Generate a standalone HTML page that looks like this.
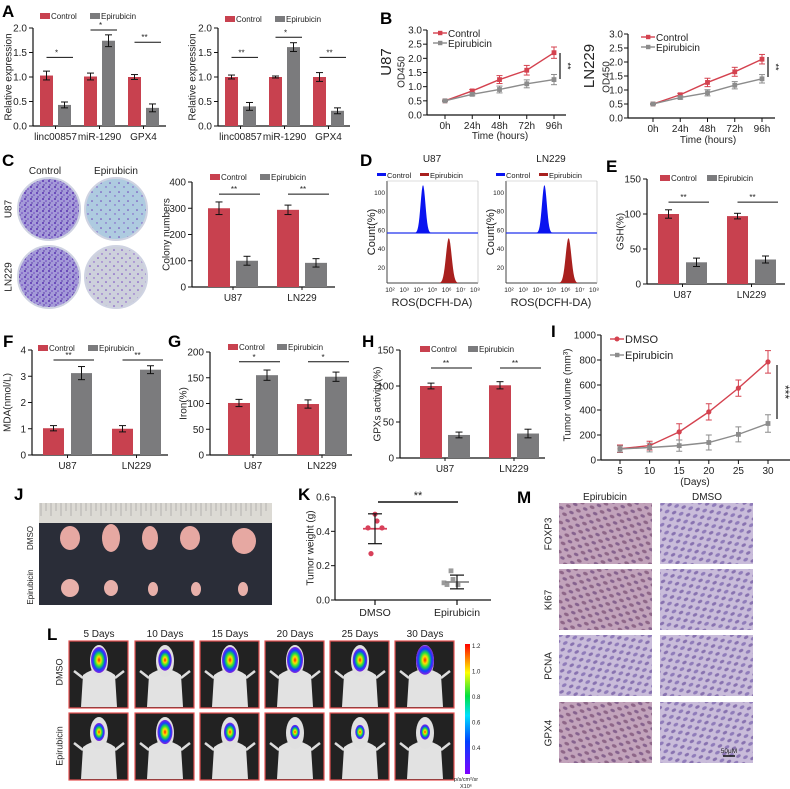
<!DOCTYPE html>
<html><head><meta charset="utf-8"><title>Figure</title>
<style>
html,body{margin:0;padding:0;background:#fff;}
svg{display:block;font-family:"Liberation Sans",Arial,sans-serif;}
</style></head>
<body>
<svg id="fig" width="790" height="789" viewBox="0 0 790 789" xmlns="http://www.w3.org/2000/svg">
<defs>
<pattern id="dotsDense" width="6" height="6" patternUnits="userSpaceOnUse">
<rect width="6" height="6" fill="#a49ad8"/>
<circle cx="1" cy="1" r="1.0" fill="#5a34b0"/><circle cx="4" cy="3" r="0.8" fill="#6a3fc0"/><circle cx="2" cy="5" r="0.7" fill="#4e2ea0"/>
</pattern>
<pattern id="dotsSparse" width="9" height="9" patternUnits="userSpaceOnUse">
<rect width="9" height="9" fill="#aecbe0"/>
<circle cx="2" cy="3" r="0.8" fill="#6a3fb8"/><circle cx="7" cy="7" r="0.7" fill="#7a4cc4"/>
</pattern>
<pattern id="dotsSparse2" width="8" height="8" patternUnits="userSpaceOnUse">
<rect width="8" height="8" fill="#cdd0dc"/>
<circle cx="2" cy="2" r="0.8" fill="#7444c0"/><circle cx="6" cy="6" r="0.7" fill="#8250c8"/>
</pattern>
<pattern id="ihcBrown" width="11" height="9" patternUnits="userSpaceOnUse" patternTransform="rotate(25)">
<rect width="11" height="9" fill="#c2a3bb"/>
<ellipse cx="3" cy="2.5" rx="2.6" ry="1.6" fill="#8e6688"/><ellipse cx="8.5" cy="7" rx="2.4" ry="1.5" fill="#86628e"/>
</pattern>
<pattern id="ihcLav" width="11" height="9" patternUnits="userSpaceOnUse" patternTransform="rotate(-30)">
<rect width="11" height="9" fill="#c9bcda"/>
<ellipse cx="3" cy="2.5" rx="2.6" ry="1.6" fill="#907cba"/><ellipse cx="8.5" cy="7" rx="2.4" ry="1.5" fill="#8872b0"/>
</pattern>
<radialGradient id="heat">
<stop offset="0" stop-color="#ff2000"/><stop offset="0.25" stop-color="#ffe000"/><stop offset="0.5" stop-color="#20e040"/><stop offset="0.75" stop-color="#1040ff"/><stop offset="1" stop-color="#7a10e0" stop-opacity="0.9"/>
</radialGradient>
<linearGradient id="cbar" x1="0" y1="1" x2="0" y2="0">
<stop offset="0" stop-color="#8000ff"/><stop offset="0.25" stop-color="#0040ff"/><stop offset="0.45" stop-color="#00e0ff"/><stop offset="0.6" stop-color="#00e040"/><stop offset="0.78" stop-color="#ffff00"/><stop offset="1" stop-color="#ff0000"/>
</linearGradient>
</defs>
</svg>
<script>
// ---------- DATA ----------
const aCategories = ["linc00857","miR-1290","GPX4"];
const a1Control = [1.03,1.01,1.00];
const a1ControlErr = [0.09,0.07,0.05];
const a1Epi = [0.43,1.74,0.37];
const a1EpiErr = [0.06,0.12,0.08];
const a1Sig = ["*","*","**"];
const a1SigLevel = [1.40,1.96,1.71];
const a2Control = [1.00,1.00,1.00];
const a2ControlErr = [0.04,0.02,0.09];
const a2Epi = [0.40,1.61,0.31];
const a2EpiErr = [0.08,0.09,0.06];
const a2Sig = ["**","*","**"];
const a2SigLevel = [1.40,1.81,1.40];
const aTicks = [0,0.5,1.0,1.5,2.0];

const bTimes = ["0h","24h","48h","72h","96h"];
const b1Control = [0.50,0.85,1.25,1.58,2.20];
const b1ControlErr = [0.02,0.05,0.14,0.17,0.20];
const b1Epi = [0.50,0.73,0.90,1.10,1.25];
const b1EpiErr = [0.02,0.05,0.12,0.14,0.18];
const b2Control = [0.50,0.83,1.27,1.65,2.10];
const b2ControlErr = [0.02,0.05,0.15,0.16,0.17];
const b2Epi = [0.50,0.73,0.90,1.17,1.40];
const b2EpiErr = [0.02,0.05,0.11,0.13,0.15];
const bTicks = [0,0.5,1.0,1.5,2.0,2.5,3.0];

const cellCategories = ["U87","LN229"];
const cControl = [300,294]; const cControlErr = [24,18];
const cEpi = [100,92]; const cEpiErr = [17,16];
const cSig = ["**","**"]; const cSigLevel = [354,354];
const cTicks = [0,100,200,300,400];

const dPeakBlue = [4.33,4.5]; const dPeakRed = [6.15,6.2];
const dTicks = ["10²","10³","10⁴","10⁵","10⁶","10⁷","10⁸"];
const dYTicks = [20,40,60,80,100];

const eControl = [100,97]; const eControlErr = [6,4];
const eEpi = [31,35]; const eEpiErr = [6,5];
const eSig = ["**","**"]; const eSigLevel = [117,117];
const eTicks = [0,50,100,150];

const fControl = [1.02,1.00]; const fControlErr = [0.10,0.12];
const fEpi = [3.12,3.25]; const fEpiErr = [0.25,0.15];
const fSig = ["**","**"]; const fSigLevel = [3.62,3.62];
const fTicks = [0,1,2,3,4];

const gControl = [101,99]; const gControlErr = [7,8];
const gEpi = [155,152]; const gEpiErr = [10,9];
const gSig = ["*","*"]; const gSigLevel = [181,181];
const gTicks = [0,50,100,150,200];

const hControl = [100,101]; const hControlErr = [4,5];
const hEpi = [32,34]; const hEpiErr = [4,6];
const hSig = ["**","**"]; const hSigLevel = [125,125];
const hTicks = [0,50,100,150];

const iDays = [5,10,15,20,25,30];
const iDmso = [90,115,225,385,575,785];
const iDmsoErr = [30,35,65,65,65,90];
const iEpi = [88,100,115,140,205,292];
const iEpiErr = [25,35,45,60,60,70];
const iTicks = [0,200,400,600,800,1000];

const kDmso = [0.50,0.46,0.42,0.42,0.27];
const kEpi = [0.17,0.12,0.10,0.09,0.09];
const kDmsoMean = 0.415; const kDmsoSd = 0.087;
const kEpiMean = 0.105; const kEpiSd = 0.04;
const kTicks = [0,0.2,0.4,0.6];

const lDays = ["5 Days","10 Days","15 Days","20 Days","25 Days","30 Days"];
const lDmsoSignal = [1.0,0.75,1.0,1.0,0.85,1.2];
const lEpiSignal = [0.55,0.9,0.6,0.35,0.35,0.4];
const lScale = ["1.2","1.0","0.8","0.6","0.4"];

const mMarkers = ["FOXP3","KI67","PCNA","GPX4"];

// ---------- HELPERS ----------
const svg = document.getElementById('fig');
const NS = "http://www.w3.org/2000/svg";
const RED = "#c8414f", GRAY = "#7b7b7d", LRED = "#d4424f", LGRAY = "#8c8c8c";
function el(tag, attrs, name, parent) {
  const e = document.createElementNS(NS, tag);
  for (const k in attrs) e.setAttribute(k, attrs[k]);
  
  
  (parent || svg).appendChild(e);
  return e;
}
function txt(x, y, s, name, opt, parent) {
  const o = Object.assign({x:x, y:y, 'font-size':10, fill:'#222', 'text-anchor':'middle'}, opt || {});
  const t = el('text', o, name, parent);
  t.textContent = s;
  return t;
}
function rtxt(x, y, s, name, size, parent) {
  return txt(x, y, s, name, {'font-size':size, transform:'rotate(-90 '+x+' '+y+')', 'dominant-baseline':'middle'}, parent);
}
function line(x1,y1,x2,y2,name,stroke,w,parent){
  return el('line',{x1:x1,y1:y1,x2:x2,y2:y2,stroke:stroke||'#111','stroke-width':w||1},name,parent);
}
function letter(x,y,s){ txt(x,y,s,'panel-label-'+s.toLowerCase(),{'font-size':17,'font-weight':'bold','text-anchor':'start',fill:'#000'}); }

function barChart(p) {
  const g = el('g', {}, p.name);
  const ys = v => p.y0 - (v / p.vMax) * (p.y0 - p.yTop);
  line(p.ax, p.yTop, p.ax, p.y0, 'y-axis', '#111', 1.2, g);
  line(p.ax, p.y0, p.axEnd, p.y0, 'x-axis', '#111', 1.2, g);
  p.ticks.forEach(t => {
    line(p.ax - 4, ys(t), p.ax, ys(t), 'y-tick', '#111', 1, g);
    txt(p.ax - 6, ys(t) + 3.5, p.fmt(t), 'y-tick-label', {'font-size':p.tfs||10, 'text-anchor':'end'}, g);
  });
  rtxt(p.titleX, (p.yTop + p.y0) / 2, p.title, 'y-axis-title', p.titleFs || 10, g);
  p.cats.forEach((c, i) => {
    const gx = p.start + i * p.step;
    const ex = gx + p.bw + p.gap;
    el('rect', {x:gx, y:ys(p.ctrl[i]), width:p.bw, height:p.y0 - ys(p.ctrl[i]), fill:RED}, 'bar-control-' + c, g);
    el('rect', {x:ex, y:ys(p.epi[i]), width:p.bw, height:p.y0 - ys(p.epi[i]), fill:GRAY}, 'bar-epirubicin-' + c, g);
    [[gx, p.ctrl[i], p.ctrlErr[i]], [ex, p.epi[i], p.epiErr[i]]].forEach(a => {
      const cx = a[0] + p.bw / 2;
      line(cx, ys(a[1] + a[2]), cx, ys(a[1] - a[2]), 'error-bar', '#111', 1, g);
      line(cx - 3.5, ys(a[1] + a[2]), cx + 3.5, ys(a[1] + a[2]), 'error-cap', '#111', 1, g);
      line(cx - 3.5, ys(a[1] - a[2]), cx + 3.5, ys(a[1] - a[2]), 'error-cap', '#111', 1, g);
    });
    const sy = ys(p.sigLevel[i]);
    line(gx + p.bw * 0.5, sy, ex + p.bw + 2, sy, 'significance-line', '#111', 1, g);
    txt((gx + ex + p.bw) / 2 + 1, sy - 2, p.sig[i], 'significance-mark', {'font-size':8}, g);
    txt((gx + ex + p.bw) / 2, p.labelY, c, 'x-tick-label', {'font-size':p.lfs||10}, g);
    line((gx + ex + p.bw) / 2, p.y0, (gx + ex + p.bw) / 2, p.y0 + 3, 'x-tick', '#111', 1, g);
  });
  const lg = el('g', {}, 'legend', g);
  el('rect', {x:p.legX, y:p.legY - 6, width:10, height:6, fill:RED}, 'legend-swatch-control', lg);
  txt(p.legX + 11, p.legY, 'Control', 'legend-label-control', {'font-size':p.lgfs||8, 'text-anchor':'start'}, lg);
  el('rect', {x:p.legX2, y:p.legY - 6, width:10, height:6, fill:GRAY}, 'legend-swatch-epirubicin', lg);
  txt(p.legX2 + 11, p.legY, 'Epirubicin', 'legend-label-epirubicin', {'font-size':p.lgfs||8, 'text-anchor':'start'}, lg);
}

function lineChart(p) {
  const g = el('g', {}, p.name);
  const ys = v => p.y0 - (v / p.vMax) * (p.y0 - p.yTop);
  const xs = i => p.x0 + i * p.xStep;
  line(p.ax, p.yTop, p.ax, p.y0, 'y-axis', '#111', 1.2, g);
  line(p.ax, p.y0, p.axEnd, p.y0, 'x-axis', '#111', 1.2, g);
  p.ticks.forEach(t => {
    line(p.ax - 4, ys(t), p.ax, ys(t), 'y-tick', '#111', 1, g);
    txt(p.ax - 5, ys(t) + 3.5, p.fmt(t), 'y-tick-label', {'font-size':10, 'text-anchor':'end'}, g);
  });
  p.cats.forEach((c, i) => {
    line(xs(i), p.y0, xs(i), p.y0 + 4, 'x-tick', '#111', 1, g);
    txt(xs(i), p.y0 + 14, c, 'x-tick-label', {'font-size':10}, g);
  });
  txt(p.xTitleX, p.xTitleY, p.xTitle, 'x-axis-title', {'font-size':10}, g);
  rtxt(p.titleX, p.titleY, p.title, 'y-axis-title', 10, g);
  p.series.forEach(s => {
    const pts = s.vals.map((v, i) => xs(i) + ',' + ys(v)).join(' ');
    el('polyline', {points:pts, fill:'none', stroke:s.color, 'stroke-width':1.4}, 'line-' + s.key, g);
    s.vals.forEach((v, i) => {
      const x = xs(i), e = s.err[i];
      line(x, ys(v + e), x, ys(v - e), 'error-bar', s.color, 1, g);
      line(x - 3, ys(v + e), x + 3, ys(v + e), 'error-cap', s.color, 1, g);
      line(x - 3, ys(v - e), x + 3, ys(v - e), 'error-cap', s.color, 1, g);
      if (s.shape === 'c') el('circle', {cx:x, cy:ys(v), r:2.6, fill:s.color}, 'point-' + s.key, g);
      else el('rect', {x:x - 2.4, y:ys(v) - 2.4, width:4.8, height:4.8, fill:s.color}, 'point-' + s.key, g);
    });
  });
  p.series.forEach((s, k) => {
    const ly = p.legY + k * p.legGap;
    line(p.legX, ly, p.legX + 14, ly, 'legend-line-' + s.key, s.color, 1.4, g);
    if (s.shape === 'c') el('circle', {cx:p.legX + 7, cy:ly, r:2.5, fill:s.color}, 'legend-marker', g);
    else el('rect', {x:p.legX + 5, y:ly - 2.2, width:4.4, height:4.4, fill:s.color}, 'legend-marker', g);
    txt(p.legX + 15, ly + 4, s.label, 'legend-label-' + s.key, {'font-size':p.legFs || 10, 'text-anchor':'start'}, g);
  });
  line(p.sigX, p.sigY1, p.sigX, p.sigY2, 'significance-line', '#111', 1.2, g);
  txt(p.sigX + 7, (p.sigY1 + p.sigY2) / 2, p.sigText, 'significance-mark', {'font-size':p.sigFs || 9, transform:'rotate(90 ' + (p.sigX + 7) + ' ' + ((p.sigY1 + p.sigY2) / 2) + ')', 'dominant-baseline':'middle'}, g);
}

// ---------- PANEL A ----------
letter(2, 17, 'A');
const f1 = v => v.toFixed(1);
barChart({name:'chart-a-left', ax:33, axEnd:166, y0:126, yTop:28, vMax:2, ticks:aTicks, fmt:f1, title:'Relative expression', titleX:9,
  cats:aCategories, ctrl:a1Control, ctrlErr:a1ControlErr, epi:a1Epi, epiErr:a1EpiErr, sig:a1Sig, sigLevel:a1SigLevel,
  start:40, step:44, bw:13, gap:5, labelY:140, legX:40, legX2:90, legY:19, lfs:10});
barChart({name:'chart-a-right', ax:218, axEnd:350, y0:126, yTop:28, vMax:2, ticks:aTicks, fmt:f1, title:'Relative expression', titleX:193,
  cats:aCategories, ctrl:a2Control, ctrlErr:a2ControlErr, epi:a2Epi, epiErr:a2EpiErr, sig:a2Sig, sigLevel:a2SigLevel,
  start:225, step:44, bw:13, gap:5, labelY:140, legX:225, legX2:275, legY:22, lfs:10});

// ---------- PANEL B ----------
letter(380, 24, 'B');
rtxt(387, 62, 'U87', 'cell-line-label-u87', 15);
rtxt(590, 66, 'LN229', 'cell-line-label-ln229', 15);
lineChart({name:'chart-b-u87', ax:427, axEnd:566, y0:115, yTop:30, vMax:3, ticks:bTicks, fmt:f1, cats:bTimes, x0:445, xStep:27.25,
  xTitle:'Time (hours)', xTitleX:500, xTitleY:139, title:'OD450', titleX:402, titleY:72,
  series:[{key:'control', label:'Control', vals:b1Control, err:b1ControlErr, color:LRED, shape:'s'},
          {key:'epirubicin', label:'Epirubicin', vals:b1Epi, err:b1EpiErr, color:LGRAY, shape:'s'}],
  legX:433, legY:33, legGap:10, sigX:560, sigY1:53, sigY2:79, sigText:'**'});
lineChart({name:'chart-b-ln229', ax:628, axEnd:775, y0:118, yTop:34, vMax:3, ticks:bTicks, fmt:f1, cats:bTimes, x0:653, xStep:27.25,
  xTitle:'Time (hours)', xTitleX:708, xTitleY:143, title:'OD450', titleX:607, titleY:77,
  series:[{key:'control', label:'Control', vals:b2Control, err:b2ControlErr, color:LRED, shape:'s'},
          {key:'epirubicin', label:'Epirubicin', vals:b2Epi, err:b2EpiErr, color:LGRAY, shape:'s'}],
  legX:641, legY:37, legGap:10, sigX:768, sigY1:57, sigY2:77, sigText:'**'});

// ---------- PANEL C ----------
letter(2, 166, 'C');
txt(45, 174, 'Control', 'column-label-control', {'font-size':10});
txt(116, 174, 'Epirubicin', 'column-label-epirubicin', {'font-size':10});
rtxt(9, 209, 'U87', 'row-label-u87', 10);
rtxt(9, 277, 'LN229', 'row-label-ln229', 10);
[[49,209,'url(#dotsDense)','dish-u87-control'],[116,209,'url(#dotsSparse)','dish-u87-epirubicin'],
 [49,277,'url(#dotsDense)','dish-ln229-control'],[116,277,'url(#dotsSparse2)','dish-ln229-epirubicin']].forEach(d => {
  el('circle', {cx:d[0], cy:d[1], r:31, fill:d[2], stroke:'#cfd3e2', 'stroke-width':2}, d[3]);
});
barChart({name:'chart-c-colony', ax:192, axEnd:335, y0:287, yTop:182, vMax:400, ticks:cTicks, fmt:v => String(v), title:'Colony numbers', titleX:167,
  cats:cellCategories, ctrl:cControl, ctrlErr:cControlErr, epi:cEpi, epiErr:cEpiErr, sig:cSig, sigLevel:cSigLevel,
  start:208, step:69, bw:22, gap:6, labelY:301, legX:210, legX2:260, legY:180});

// ---------- PANEL D ----------
letter(360, 166, 'D');
function histo(bx, title, idx) {
  const g = el('g', {}, 'histogram-' + title.toLowerCase());
  const w = 91, top = 181, bot = 283;
  const xl = v => bx + 3 + (v - 2) / 6 * (w - 6);
  txt(bx + 45, 162, title, 'histogram-title', {'font-size':10}, g);
  line(bx, top, bx, bot, 'y-axis', '#444', 1, g);
  line(bx, bot, bx + w, bot, 'x-axis', '#444', 1, g);
  line(bx, top, bx + w, top, 'frame-top', '#bbb', 0.6, g);
  line(bx + w, top, bx + w, bot, 'frame-right', '#bbb', 0.6, g);
  dYTicks.forEach(t => {
    const y = bot - 16 - (t - 20) * 0.94;
    txt(bx - 2, y + 3, String(t), 'y-tick-label', {'font-size':6.5, 'text-anchor':'end'}, g);
  });
  dTicks.forEach((t, i) => txt(xl(2 + i), 292, t, 'x-tick-label', {'font-size':6.5}, g));
  txt(bx + 45, 306, 'ROS(DCFH-DA)', 'x-axis-title', {'font-size':11}, g);
  rtxt(bx - 15, 232, 'Count(%)', 'y-axis-title', 11, g);
  line(bx, 233, bx + w, 233, 'control-baseline', '#2233ee', 1.2, g);
  function peak(c, base, h, sig, color, nm) {
    let d = 'M' + xl(c - 4 * sig) + ',' + base;
    for (let k = -4; k <= 4; k += 0.25) d += ' L' + xl(c + k * sig) + ',' + (base - h * Math.exp(-k * k / 2));
    d += ' L' + xl(c + 4 * sig) + ',' + base + ' Z';
    el('path', {d:d, fill:color}, nm, g);
  }
  peak(dPeakBlue[idx], 233, 48, 0.17, '#0a14f0', 'peak-control');
  peak(dPeakRed[idx], 283, 45, 0.2, '#a8201e', 'peak-epirubicin');
  el('rect', {x:bx - 10, y:173, width:9, height:3, fill:'#0a14f0'}, 'legend-swatch-control', g);
  txt(bx, 178, 'Control', 'legend-label-control', {'font-size':7.5, 'text-anchor':'start'}, g);
  el('rect', {x:bx + 33, y:173, width:9, height:3, fill:'#a8201e'}, 'legend-swatch-epirubicin', g);
  txt(bx + 43, 178, 'Epirubicin', 'legend-label-epirubicin', {'font-size':7.5, 'text-anchor':'start'}, g);
}
histo(387, 'U87', 0);
histo(506, 'LN229', 1);

// ---------- PANEL E ----------
letter(606, 172, 'E');
barChart({name:'chart-e-gsh', ax:647, axEnd:785, y0:284, yTop:179, vMax:150, ticks:eTicks, fmt:v => String(v), title:'GSH(%)', titleX:621,
  cats:cellCategories, ctrl:eControl, ctrlErr:eControlErr, epi:eEpi, epiErr:eEpiErr, sig:eSig, sigLevel:eSigLevel,
  start:658, step:69, bw:21, gap:7, labelY:298, legX:660, legX2:707, legY:181});

// ---------- PANEL F/G/H ----------
letter(3, 347, 'F');
barChart({name:'chart-f-mda', ax:32, axEnd:168, y0:455, yTop:350, vMax:4, ticks:fTicks, fmt:v => String(v), title:'MDA(nmol/L)', titleX:8,
  cats:cellCategories, ctrl:fControl, ctrlErr:fControlErr, epi:fEpi, epiErr:fEpiErr, sig:fSig, sigLevel:fSigLevel,
  start:43, step:69, bw:21, gap:7, labelY:469, legX:38, legX2:88, legY:351});
letter(168, 347, 'G');
barChart({name:'chart-g-iron', ax:210, axEnd:352, y0:455, yTop:352, vMax:200, ticks:gTicks, fmt:v => String(v), title:'Iron(%)', titleX:184,
  cats:cellCategories, ctrl:gControl, ctrlErr:gControlErr, epi:gEpi, epiErr:gEpiErr, sig:gSig, sigLevel:gSigLevel,
  start:228, step:69, bw:22, gap:6, labelY:469, legX:228, legX2:277, legY:350});
letter(362, 347, 'H');
barChart({name:'chart-h-gpx', ax:400, axEnd:545, y0:458, yTop:350, vMax:150, ticks:hTicks, fmt:v => String(v), title:'GPXs activity(%)', titleX:378,
  cats:cellCategories, ctrl:hControl, ctrlErr:hControlErr, epi:hEpi, epiErr:hEpiErr, sig:hSig, sigLevel:hSigLevel,
  start:420, step:69, bw:22, gap:6, labelY:472, legX:420, legX2:468, legY:352});

// ---------- PANEL I ----------
letter(551, 337, 'I');
lineChart({name:'chart-i-tumor-volume', ax:601, axEnd:790, y0:460, yTop:335, vMax:1000, ticks:iTicks, fmt:v => String(v), cats:iDays.map(String), x0:620, xStep:29.6,
  xTitle:'(Days)', xTitleX:695, xTitleY:485, title:'Tumor volume (mm³)', titleX:568, titleY:395,
  series:[{key:'dmso', label:'DMSO', vals:iDmso, err:iDmsoErr, color:LRED, shape:'c'},
          {key:'epirubicin', label:'Epirubicin', vals:iEpi, err:iEpiErr, color:LGRAY, shape:'s'}],
  legX:610, legY:339, legGap:16, legFs:11, sigX:777, sigY1:365, sigY2:419, sigText:'***', sigFs:12});

// ---------- PANEL J ----------
letter(14, 500, 'J');
const jg = el('g', {}, 'tumor-photo');
el('rect', {x:39, y:503, width:233, height:102, fill:'#2a2d38'}, 'photo-background', jg);
el('rect', {x:39, y:503, width:233, height:20, fill:'#dcdad4'}, 'ruler', jg);
for (let i = 0; i < 46; i++) line(41 + i * 5, 503, 41 + i * 5, i % 2 ? 511 : 516, 'ruler-mark', '#999', 0.6, jg);
rtxt(31, 538, 'DMSO', 'row-label-dmso', 8);
rtxt(31, 587, 'Epirubicin', 'row-label-epirubicin', 8);
[[70,538,10,12],[111,538,9,14],[150,538,8,12],[190,538,10,12],[244,541,12,13]].forEach(t => el('ellipse', {cx:t[0], cy:t[1], rx:t[2], ry:t[3], fill:'#e6a8a2'}, 'tumor-dmso', jg));
[[70,588,9,9],[111,588,7,8],[153,589,5,7],[196,589,5,7],[243,589,5,7]].forEach(t => el('ellipse', {cx:t[0], cy:t[1], rx:t[2], ry:t[3], fill:'#e8b0aa'}, 'tumor-epirubicin', jg));

// ---------- PANEL K ----------
letter(298, 500, 'K');
(function(){
  const g = el('g', {}, 'chart-k-tumor-weight');
  const ax = 335, y0 = 600, yTop = 497, vMax = 0.6;
  const ys = v => y0 - v / vMax * (y0 - yTop);
  const xD = 375, xE = 457;
  line(ax, yTop, ax, y0, 'y-axis', '#111', 1.2, g);
  line(ax, y0, 491, y0, 'x-axis', '#111', 1.2, g);
  kTicks.forEach(t => { line(ax - 4, ys(t), ax, ys(t), 'y-tick', '#111', 1, g); txt(ax - 5, ys(t) + 3.5, t.toFixed(1), 'y-tick-label', {'text-anchor':'end'}, g); });
  [[xD,'DMSO'],[xE,'Epirubicin']].forEach(a => { line(a[0], y0, a[0], y0 + 5, 'x-tick', '#111', 1.2, g); txt(a[0], 616, a[1], 'x-tick-label', {'font-size':10.5}, g); });
  rtxt(311, 548, 'Tumor weight (g)', 'y-axis-title', 10, g);
  const off = [0, 2, -7, 7, -4];
  kDmso.forEach((v, i) => el('circle', {cx:xD + off[i], cy:ys(v), r:2.6, fill:'#d8405a'}, 'point-dmso', g));
  kEpi.forEach((v, i) => el('rect', {x:xE - 2.4 + off[i] - 6, y:ys(v) - 2.4, width:4.8, height:4.8, fill:'#9a9a9a'}, 'point-epirubicin', g));
  [[xD, kDmsoMean, kDmsoSd, '#d8405a', 'dmso'], [xE, kEpiMean, kEpiSd, '#8a8a8a', 'epirubicin']].forEach(a => {
    line(a[0] - 12, ys(a[1]), a[0] + 12, ys(a[1]), 'mean-line-' + a[4], a[3], 1.8, g);
    line(a[0], ys(a[1] + a[2]), a[0], ys(a[1] - a[2]), 'sd-line-' + a[4], '#111', 1.2, g);
    line(a[0] - 7, ys(a[1] + a[2]), a[0] + 7, ys(a[1] + a[2]), 'sd-cap', '#111', 1.2, g);
    line(a[0] - 7, ys(a[1] - a[2]), a[0] + 7, ys(a[1] - a[2]), 'sd-cap', '#111', 1.2, g);
  });
  line(378, 502, 458, 502, 'significance-line', '#111', 1.4, g);
  txt(418, 499, '**', 'significance-mark', {'font-size':11}, g);
})();

// ---------- PANEL L ----------
letter(47, 640, 'L');
rtxt(60, 672, 'DMSO', 'row-label-dmso', 9);
rtxt(60, 746, 'Epirubicin', 'row-label-epirubicin', 9);
const lX = [69,135,200,265,330,395];
function mouse(x, y, s, name) {
  const g = el('g', {}, name);
  el('rect', {x:x, y:y, width:59, height:67, fill:'#222', stroke:'#e65050', 'stroke-width':1.2}, 'image-frame', g);
  el('path', {d:'M'+(x+12)+','+(y+66)+' L'+(x+14)+','+(y+34)+' Q'+(x+30)+','+(y+22)+' '+(x+46)+','+(y+34)+' L'+(x+48)+','+(y+66)+' Z', fill:'#e2e2e2'}, 'mouse-body', g);
  line(x+14, y+37, x+5, y+30, 'mouse-arm', '#dcdcdc', 2.5, g);
  line(x+46, y+37, x+55, y+30, 'mouse-arm', '#dcdcdc', 2.5, g);
  el('ellipse', {cx:x + 30, cy:y + 20, rx:9, ry:16, fill:'#e0e0e0'}, 'mouse-head', g);
  el('ellipse', {cx:x + 30, cy:y + 19, rx:3 + 5 * s, ry:4 + 9 * s, fill:'url(#heat)'}, 'bioluminescence-signal', g);
}
lDays.forEach((d, i) => {
  txt(lX[i] + 30, 637, d, 'day-label', {'font-size':10});
  mouse(lX[i], 641, lDmsoSignal[i], 'mouse-dmso-' + (i + 1));
  mouse(lX[i], 713, lEpiSignal[i], 'mouse-epirubicin-' + (i + 1));
});
el('rect', {x:465, y:644, width:5, height:130, fill:'url(#cbar)'}, 'color-scale-bar');
lScale.forEach((s, i) => txt(472, 648 + i * 25.5, s, 'color-scale-label', {'font-size':6, 'text-anchor':'start'}));
txt(466, 781, 'p/s/cm²/sr', 'color-scale-unit', {'font-size':5.5});
txt(466, 788, 'X10⁶', 'color-scale-multiplier', {'font-size':5.5});

// ---------- PANEL M ----------
letter(517, 503, 'M');
txt(605, 500, 'Epirubicin', 'column-label-epirubicin', {'font-size':10});
txt(707, 500, 'DMSO', 'column-label-dmso', {'font-size':10});
const mTops = [503,569,635,702];
mMarkers.forEach((m, i) => {
  rtxt(549, mTops[i] + 31, m, 'row-label-' + m.toLowerCase(), 10);
  el('rect', {x:559, y:mTops[i], width:93, height:61, fill: i === 2 ? 'url(#ihcLav)' : 'url(#ihcBrown)'}, 'ihc-epirubicin-' + m.toLowerCase());
  el('rect', {x:660, y:mTops[i], width:93, height:61, fill:'url(#ihcLav)'}, 'ihc-dmso-' + m.toLowerCase());
});
line(723, 756, 735, 756, 'scale-bar', '#111', 1.5);
txt(729, 753, '50μM', 'scale-bar-label', {'font-size':6.5});
</script>
</body></html>
